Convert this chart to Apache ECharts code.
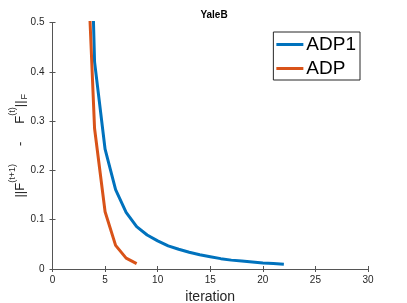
<!DOCTYPE html>
<html>
<head>
<meta charset="utf-8">
<script src="https://cdn.jsdelivr.net/npm/echarts@6/dist/echarts.min.js"></script>
<style>
html,body{margin:0;padding:0;background:#fff;}
#c{width:407px;height:303px;}
</style>
</head>
<body>
<div id="c"></div>
<script>
const titleText = 'YaleB';
const xName = 'iteration';
const seriesNames = ['ADP1', 'ADP'];
const iterADP1 = [3, 4, 5, 6, 7, 8, 9, 10, 11, 12, 13, 14, 15, 16, 17, 18, 19, 20, 21, 22];
const valADP1 = [1.2, 0.42, 0.243, 0.161, 0.115, 0.086, 0.069, 0.057, 0.047, 0.040, 0.034, 0.029, 0.025, 0.021, 0.018, 0.016, 0.014, 0.012, 0.011, 0.0095];
const iterADP = [3, 4, 5, 6, 7, 8];
const valADP = [0.79, 0.285, 0.116, 0.048, 0.022, 0.011];
const xTicks = [0, 5, 10, 15, 20, 25, 30];
const yTicks = [0, 0.1, 0.2, 0.3, 0.4, 0.5];

const axisColor = '#555';
const textColor = '#262626';
const ff = 'Liberation Sans, Arial, sans-serif';

function pairs(xs, ys) { return xs.map((x, i) => [x, ys[i]]); }

const chart = echarts.init(document.getElementById('c'), null, {renderer: 'canvas'});
const axCommon = {
  axisLine: {show: true, lineStyle: {color: axisColor, width: 1}},
  axisTick: {show: true, inside: true, length: 3, lineStyle: {color: axisColor}},
  splitLine: {show: false}
};
chart.setOption({
  animation: false,
  backgroundColor: '#fff',
  title: {
    text: titleText, left: 209, top: 5, textAlign: 'center',
    textStyle: {fontSize: 10, fontWeight: 'bold', color: '#000', fontFamily: ff}
  },
  grid: {left: 52.5, right: 39, top: 22.5, bottom: 34, containLabel: false, outerBoundsMode: 'none'},
  legend: {
    orient: 'vertical', right: 47, top: 32,
    data: seriesNames,
    icon: 'rect', itemWidth: 27, itemHeight: 3, itemGap: 5,
    borderColor: '#262626', borderWidth: 1, backgroundColor: '#fff',
    padding: [3, 4, 2, 3],
    textStyle: {fontSize: 19, color: '#000', fontFamily: ff, padding: [0, 0, 0, -2]}
  },
  xAxis: [
    Object.assign({
      type: 'value', min: 0, max: 30, interval: 5, position: 'bottom',
      name: xName, nameLocation: 'middle', nameGap: 21, nameMoveOverlap: false,
      nameTextStyle: {fontSize: 14, color: textColor, fontFamily: ff},
      axisLabel: {fontSize: 10, color: textColor, margin: 6, fontFamily: ff,
        formatter: v => xTicks.includes(v) ? String(v) : ''}
    }, axCommon),
    Object.assign({
      type: 'value', min: 0, max: 30, interval: 5, position: 'top',
      axisLabel: {show: false}
    }, axCommon)
  ],
  yAxis: [
    Object.assign({
      type: 'value', min: 0, max: 0.5, interval: 0.1, position: 'left',
      name: '{m|||F}{s|(t+1)}{m|     -     F}{s|(t)}{m|||}{b|F}',
      nameLocation: 'middle', nameRotate: 90, nameGap: 22, nameMoveOverlap: false,
      nameTextStyle: {
        color: textColor, fontFamily: ff,
        rich: {
          m: {fontSize: 13, lineHeight: 13, verticalAlign: 'bottom', color: textColor, fontFamily: ff, padding: [0,0,4,0]},
          s: {fontSize: 9, lineHeight: 9, verticalAlign: 'bottom', color: textColor, fontFamily: ff, padding: [0,0,13,0]},
          b: {fontSize: 9, lineHeight: 9, verticalAlign: 'bottom', color: textColor, fontFamily: ff, padding: [0,0,1,1]}
        }
      },
      axisLabel: {fontSize: 10, color: textColor, margin: 8, fontFamily: ff,
        formatter: v => { const t = yTicks.find(k => Math.abs(k - v) < 1e-9); return t === undefined ? '' : String(t); }}
    }, axCommon),
    Object.assign({
      type: 'value', min: 0, max: 0.5, interval: 0.1, position: 'right',
      axisLabel: {show: false}
    }, axCommon)
  ],
  series: [
    {
      name: seriesNames[0], type: 'line', data: pairs(iterADP1, valADP1),
      showSymbol: false, symbol: 'none', clip: true,
      lineStyle: {width: 3, color: '#0072BD'}, itemStyle: {color: '#0072BD'}
    },
    {
      name: seriesNames[1], type: 'line', data: pairs(iterADP, valADP),
      showSymbol: false, symbol: 'none', clip: true,
      lineStyle: {width: 3, color: '#D95319'}, itemStyle: {color: '#D95319'}
    }
  ]
});
</script>
</body>
</html>
